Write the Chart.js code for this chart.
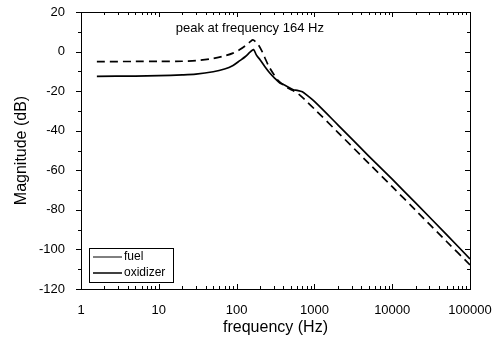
<!DOCTYPE html>
<html>
<head>
<meta charset="utf-8">
<script src="https://cdn.jsdelivr.net/npm/chart.js@4.4.1/dist/chart.umd.min.js"></script>
<style>
  html, body { margin: 0; padding: 0; background: #fff; }
  #wrap { width: 503px; height: 341px; position: relative; }
</style>
</head>
<body>
<div id="wrap"><canvas id="magChart"></canvas></div>
<script>
// values
const fuelFreq = [1.6, 5, 10, 20, 30, 50, 70, 90, 110, 130, 150, 162, 175, 190, 210, 230, 260, 300, 340, 450, 550, 650, 800, 1000, 2000, 5000, 10000, 20000, 50000, 100000];
const fuelMag  = [-5.1, -5.0, -5.0, -4.9, -4.6, -3.5, -2.2, -0.8, 1.0, 3.0, 5.0, 5.9, 5.0, 3.5, 0.5, -3.0, -7.5, -11.5, -14.5, -18.3, -20.0, -22.0, -25.3, -29.0, -40.8, -56.5, -68.3, -80.2, -96.0, -107.8];

const oxFreq = [1.6, 5, 10, 20, 30, 50, 70, 90, 110, 130, 150, 165, 180, 200, 230, 267, 310, 360, 400, 535, 600, 700, 800, 1000, 2000, 5000, 10000, 20000, 50000, 100000];
const oxMag  = [-12.5, -12.4, -12.2, -11.8, -11.4, -10.2, -8.8, -7.0, -4.6, -2.5, -0.2, 1.0, -1.8, -4.1, -7.5, -10.8, -13.5, -15.9, -16.7, -19.3, -19.6, -20.3, -22.0, -25.2, -37.0, -52.8, -64.5, -76.5, -92.5, -104.8];

const xTickValues = [1, 10, 100, 1000, 10000, 100000];
const yTickValues = [-120, -100, -80, -60, -40, -20, 0, 20];
const seriesNames = ['fuel', 'oxidizer'];
const peakNote = { text: 'peak at frequency 164 Hz', x: 148, y: 11.5 };

const FONT = '"Liberation Sans", Arial, sans-serif';
const INK = '#000';

// frame, inner ticks, legend box and note
const framePlugin = {
  id: 'frame',
  afterDraw(chart) {
    const { ctx, chartArea: a, scales: { x, y } } = chart;
    ctx.save();
    ctx.strokeStyle = INK;
    ctx.lineWidth = 1;
    ctx.strokeRect(a.left + 0.5, a.top + 0.5, a.right - a.left, a.bottom - a.top);

    ctx.beginPath();
    // x ticks: majors on decades, minors 2..9
    for (let d = 0; d < 5; d++) {
      for (let m = 1; m <= 9; m++) {
        const f = Math.pow(10, d) * m;
        const px = Math.round(x.getPixelForValue(f)) + 0.5;
        const len = m === 1 ? 5 : 3;
        ctx.moveTo(px, a.bottom); ctx.lineTo(px, a.bottom - len);
        ctx.moveTo(px, a.top); ctx.lineTo(px, a.top + len);
      }
    }
    // y ticks every 10 dB
    for (let v = -120; v <= 20; v += 10) {
      const py = Math.round(y.getPixelForValue(v)) + 0.5;
      const len = v % 20 === 0 ? 5 : 3;
      ctx.moveTo(a.left, py); ctx.lineTo(a.left - len, py);
      ctx.moveTo(a.right, py); ctx.lineTo(a.right - len, py);
    }
    ctx.stroke();

    // legend
    const bx = a.left + 8, by = a.bottom - 41, bw = 84, bh = 34;
    ctx.strokeRect(bx + 0.5, by + 0.5, bw, bh);
    ctx.font = '12px ' + FONT;
    ctx.fillStyle = INK;
    ctx.textBaseline = 'middle';
    seriesNames.forEach((name, i) => {
      const ly = by + 9 + i * 16;
      ctx.beginPath();
      ctx.lineWidth = i === 0 ? 1 : 1.5;
      ctx.moveTo(bx + 4, ly); ctx.lineTo(bx + 33, ly);
      ctx.stroke();
      ctx.fillText(name, bx + 35, ly);
    });

    // note
    ctx.font = '13px ' + FONT;
    ctx.textAlign = 'center';
    ctx.fillText(peakNote.text, x.getPixelForValue(peakNote.x), y.getPixelForValue(peakNote.y));
    ctx.restore();
  }
};

const ctx = document.getElementById('magChart').getContext('2d');
new Chart(ctx, {
  type: 'line',
  data: {
    datasets: [
      {
        label: seriesNames[0],
        data: fuelFreq.map((f, i) => ({ x: f, y: fuelMag[i] })),
        borderColor: INK,
        borderWidth: 1.7,
        borderDash: [8, 5],
        pointRadius: 0,
        tension: 0.3,
        fill: false
      },
      {
        label: seriesNames[1],
        data: oxFreq.map((f, i) => ({ x: f, y: oxMag[i] })),
        borderColor: INK,
        borderWidth: 1.7,
        pointRadius: 0,
        tension: 0.3,
        fill: false
      }
    ]
  },
  options: {
    responsive: true,
    maintainAspectRatio: false,
    animation: false,
    layout: { padding: { top: 12, right: 33, left: 0, bottom: 0 } },
    plugins: { legend: { display: false }, tooltip: { enabled: false } },
    scales: {
      x: {
        type: 'logarithmic',
        min: 1, max: 100000,
        afterBuildTicks: s => { s.ticks = xTickValues.map(v => ({ value: v })); },
        afterFit: s => { s.height = 52; s.paddingLeft = 0; s.paddingRight = 0; },
        grid: { display: false },
        border: { display: false },
        ticks: { color: INK, font: { family: FONT, size: 13 }, padding: 6, maxRotation: 0, autoSkip: false, callback: v => String(v) },
        title: { display: true, text: 'frequency (Hz)', color: INK, font: { family: FONT, size: 16 }, padding: { top: 3 } }
      },
      y: {
        min: -120, max: 20,
        afterBuildTicks: s => { s.ticks = yTickValues.map(v => ({ value: v })); },
        afterFit: s => { s.width = 81; s.paddingTop = 0; s.paddingBottom = 0; },
        grid: { display: false },
        border: { display: false },
        ticks: { color: INK, font: { family: FONT, size: 13 }, padding: 8 },
        title: { display: true, text: 'Magnitude (dB)', color: INK, font: { family: FONT, size: 16 }, padding: { top: 12, bottom: 0 } }
      }
    }
  },
  plugins: [framePlugin]
});
</script>
</body>
</html>
